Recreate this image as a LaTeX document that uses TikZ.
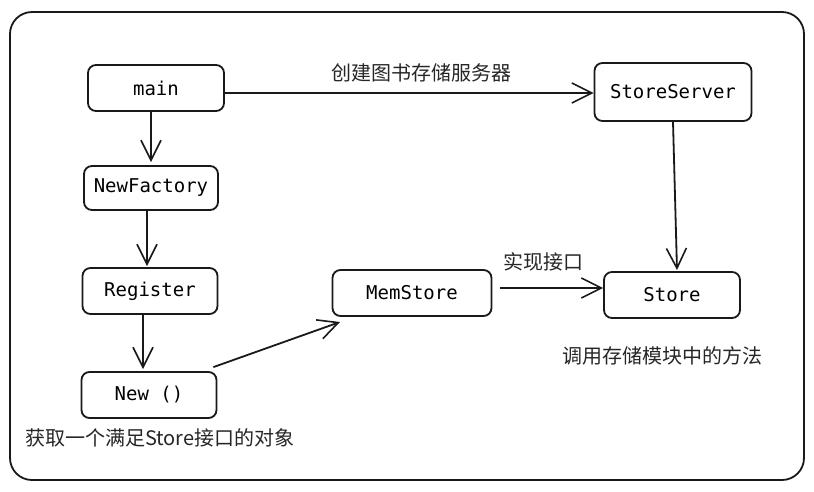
\documentclass[tikz,border=0pt]{standalone}
\usepackage{fontspec}
\setmonofont{DejaVu Sans Mono}
\newfontfamily\cjk{Noto Sans CJK SC}
\usetikzlibrary{arrows.meta}
\begin{document}
\begin{tikzpicture}[x=1pt,y=-1pt,
  box/.style={draw=black!90, line width=1.8pt, rounded corners=8pt, inner sep=0pt, font=\ttfamily\fontsize{19}{21}\selectfont},
  conn/.style={draw=black!90, line width=1.8pt, -{Straight Barb[length=20pt,width=20pt,line width=1.6pt]}},
  lbl/.style={font=\cjk\fontsize{20}{23}\selectfont, inner sep=0pt, text=black!85}]
\useasboundingbox (0,0) rectangle (814,491);
\draw[line width=1.8pt, rounded corners=22pt, draw=black!90] (10,12) rectangle (804,480);
\node[box, minimum width=136pt, minimum height=46pt] (main) at (156,88) {main};
\node[box, minimum width=134pt, minimum height=44pt] (nf) at (151,188) {NewFactory};
\node[box, minimum width=135pt, minimum height=46pt] (reg) at (150,291) {Register};
\node[box, minimum width=135pt, minimum height=46pt] (new) at (149,395) {New ()};
\node[box, minimum width=159pt, minimum height=46pt] (mem) at (412,293) {MemStore};
\node[box, minimum width=157pt, minimum height=58pt] (ss) at (673,92) {StoreServer};
\node[box, minimum width=136pt, minimum height=46pt] (st) at (672,295) {Store};
\draw[conn] (main.south -| 151,0) -- (151,162);
\draw[conn] (nf.south -| 147,0) -- (147,266);
\draw[conn] (reg.south -| 143,0) -- (143,369);
\draw[conn] (main.east |- 0,93) -- (ss.west |- 0,93);
\draw[conn] (new.north east) ++(-4,-4) -- (340,322);
\draw[conn] (500,288) -- (st.west |- 0,288);
\draw[conn] (ss.south) -- (677,270);
\node[lbl] (l1) at (421,73) {创建图书存储服务器};
\node[lbl] (l2) at (543,262) {实现接口};
\node[lbl] (l3) at (662,356) {调用存储模块中的方法};
\node[lbl, anchor=west] (l4) at (25,438) {获取一个满足Store接口的对象};
\end{tikzpicture}
\end{document}
